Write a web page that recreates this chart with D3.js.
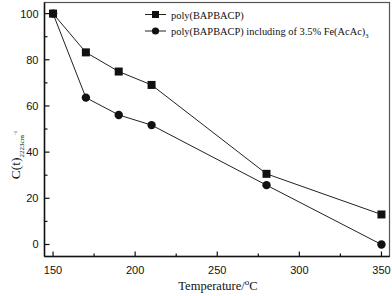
<!DOCTYPE html>
<html><head><meta charset="utf-8">
<script src="https://cdn.jsdelivr.net/npm/d3@7"></script>
<style>body{margin:0;background:#fff}svg{display:block}</style>
</head><body>
<script>
const temperature = [150, 170, 190, 210, 280, 350];
const polyValues = [100, 83.2, 74.9, 69.1, 30.6, 13.0];
const feValues = [100, 63.6, 56.1, 51.7, 25.7, 0];
const xTicks = [150, 200, 250, 300, 350];
const yTicks = [0, 20, 40, 60, 80, 100];
const seriesNames = ["poly(BAPBACP)", "poly(BAPBACP) including of 3.5% Fe(AcAc)"];

const W = 392, H = 296;
const L = 44.5, R = 389.5, T = 2.5, B = 256.5;
const svg = d3.select("body").append("svg").attr("width", W).attr("height", H);
const x = d3.scaleLinear().domain([144.8, 354.9]).range([L, R]);
const y = d3.scaleLinear().domain([-5.2, 104.8]).range([B, T]);

// frame
svg.append("rect").attr("x", L).attr("y", T).attr("width", R - L).attr("height", B - T)
  .attr("fill", "none").attr("stroke", "#555").attr("stroke-width", 1.2);
svg.append("line").attr("x1", L).attr("x2", L).attr("y1", T).attr("y2", B).attr("stroke", "#111").attr("stroke-width", 1.5);
svg.append("line").attr("x1", L).attr("x2", R).attr("y1", B).attr("y2", B).attr("stroke", "#111").attr("stroke-width", 1.5);

// x ticks (inward)
const gx = svg.append("g");
d3.range(150, 351, 25).forEach(v => {
  const major = v % 50 === 0;
  gx.append("line").attr("x1", x(v)).attr("x2", x(v)).attr("y1", B).attr("y2", B - (major ? 5 : 3))
    .attr("stroke", "#111").attr("stroke-width", 1.2);
});
xTicks.forEach(v => {
  gx.append("text").attr("x", x(v)).attr("y", B + 17).attr("text-anchor", "middle")
    .attr("font-family", "Liberation Sans, Arial, sans-serif").attr("font-size", 11).attr("fill", "#111").text(v);
});
// y ticks
const gy = svg.append("g");
d3.range(0, 101, 10).forEach(v => {
  const major = v % 20 === 0;
  gy.append("line").attr("x1", L).attr("x2", L + (major ? 5 : 3)).attr("y1", y(v)).attr("y2", y(v))
    .attr("stroke", "#111").attr("stroke-width", 1.2);
});
yTicks.forEach(v => {
  gy.append("text").attr("x", L - 6).attr("y", y(v) + 4).attr("text-anchor", "end")
    .attr("font-family", "Liberation Sans, Arial, sans-serif").attr("font-size", 11).attr("fill", "#111").text(v);
});

// axis labels
const xl = svg.append("text").attr("x", 218).attr("y", 290).attr("text-anchor", "middle")
  .attr("font-family", "Liberation Serif, Times New Roman, serif").attr("font-size", 12.5).attr("fill", "#111");
xl.append("tspan").text("Temperature/");
xl.append("tspan").attr("dy", -5).attr("font-size", 9).text("o");
xl.append("tspan").attr("dy", 5).text("C");

const yl = svg.append("text").attr("transform", "translate(20,155) rotate(-90)").attr("text-anchor", "middle")
  .attr("font-family", "Liberation Serif, Times New Roman, serif").attr("font-size", 13.5).attr("fill", "#111");
yl.append("tspan").text("C(t)");
yl.append("tspan").attr("dy", 4).attr("font-size", 7).text("2223cm");
yl.append("tspan").attr("dy", -7).attr("font-size", 5).text("-1");

// lines
const line = d3.line().x((d, i) => x(temperature[i])).y(d => y(d));
[polyValues, feValues].forEach(vals => {
  svg.append("path").attr("d", line(vals)).attr("fill", "none").attr("stroke", "#222").attr("stroke-width", 1);
});
// markers
svg.append("g").selectAll("rect").data(polyValues).join("rect")
  .attr("x", (d, i) => x(temperature[i]) - 4).attr("y", d => y(d) - 4).attr("width", 8).attr("height", 8).attr("fill", "#111");
svg.append("g").selectAll("circle").data(feValues).join("circle")
  .attr("cx", (d, i) => x(temperature[i])).attr("cy", d => y(d)).attr("r", 4.2).attr("fill", "#111");

// legend
const lg = svg.append("g");
[0, 1].forEach(i => {
  const ly = 14.5 + i * 16.5;
  lg.append("line").attr("x1", 145).attr("x2", 166).attr("y1", ly).attr("y2", ly).attr("stroke", "#222").attr("stroke-width", 1);
  if (i === 0) lg.append("rect").attr("x", 152).attr("y", ly - 3.5).attr("width", 7).attr("height", 7).attr("fill", "#111");
  else lg.append("circle").attr("cx", 155.5).attr("cy", ly).attr("r", 3.6).attr("fill", "#111");
  const t = lg.append("text").attr("x", 171).attr("y", ly + 4).attr("font-family", "Liberation Serif, Times New Roman, serif")
    .attr("font-size", 10.4).attr("fill", "#111");
  t.append("tspan").text(seriesNames[i]);
  if (i === 1) t.append("tspan").attr("dy", 3).attr("font-size", 6.5).text("3");
});
</script>
</body></html>
